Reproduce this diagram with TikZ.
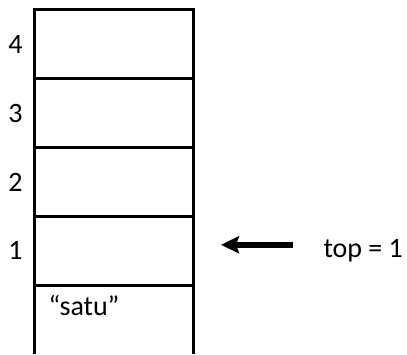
\documentclass[tikz,border=0pt]{standalone}
\usepackage{fontspec}
\setmainfont{Carlito}
\usepackage{tikz}
\usetikzlibrary{positioning, arrows.meta}

\begin{document}
\begin{tikzpicture}[x=1pt, y=1pt, line width=3pt,
    cell/.style={draw, minimum width=159pt, minimum height=68.8pt, outer sep=0pt, inner sep=0pt},
    idx/.style={inner sep=0pt, font=\fontsize{28}{33}\selectfont},
    ptr/.style={line width=5.5pt, -{Stealth[length=18pt, width=17pt, inset=3pt]}}]
    \useasboundingbox (0,0) rectangle (407,354);
    \node[cell] (cell4) at (113.5,309.6) {};
    \node[cell, below=0pt of cell4] (cell3) {};
    \node[cell, below=0pt of cell3] (cell2) {};
    \node[cell, below=0pt of cell2] (cell1) {};
    \node[cell, draw=none, below=0pt of cell1] (cell0) {};
    \draw (cell0.north west) -- (cell0.south west)
          (cell0.north east) -- (cell0.south east);
    % indices
    \foreach \i in {1,...,4}
      \node[idx, left=10pt of cell\i.west] (idx\i) {\i};
    \node[idx, anchor=north west] (item) at ([xshift=13pt, yshift=-9pt]cell0.north west) {“satu”};
    % top pointer
    \node[idx, right=129pt of cell1.east] (toplbl) {top = 1};
    \coordinate[right=28pt of cell1.east, yshift=6pt] (tip);
    \draw[ptr] ([xshift=-29pt]toplbl.west |- tip) -- (tip);
\end{tikzpicture}
\end{document}
